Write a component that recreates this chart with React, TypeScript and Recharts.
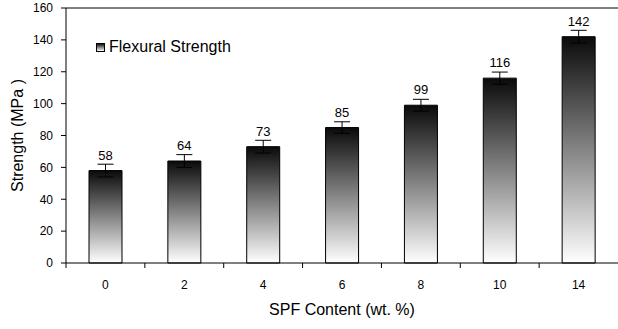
import React from 'react';
import { BarChart, Bar, XAxis, YAxis, ErrorBar, LabelList, Legend, ReferenceLine } from 'recharts';

const spfContent = ['0', '2', '4', '6', '8', '10', '14'];
const flexuralStrength = [58, 64, 73, 85, 99, 116, 142];
const strengthError = [4, 4, 4, 3.6, 3.7, 3.8, 4];
const yTicks = [0, 20, 40, 60, 80, 100, 120, 140, 160];

const data = spfContent.map((c, i) => ({
  content: c,
  strength: flexuralStrength[i],
  err: strengthError[i],
}));

const W = 618;
const H = 329;
const Y_AXIS_W = 66;
const STEP = (W - Y_AXIS_W) / spfContent.length;
const FONT = '"Liberation Sans", Arial, sans-serif';

const XTick = ({ x, y, payload }: any) => (
  <g>
    <line x1={x - STEP / 2} y1={y} x2={x - STEP / 2} y2={y + 5} stroke="#000" />
    <text x={x} y={y + 22} textAnchor="middle" dominantBaseline="central" fontSize={12} fill="#000">
      {payload.value}
    </text>
  </g>
);

const YTitle = ({ viewBox }: any) => {
  const cx = 17;
  const cy = viewBox.y + viewBox.height / 2;
  return (
    <text x={cx} y={cy} transform={`rotate(-90 ${cx} ${cy})`} textAnchor="middle" dominantBaseline="central" fontSize={16} fill="#000">
      Strength (MPa )
    </text>
  );
};

const LegendBox = () => (
  <div style={{ display: 'flex', alignItems: 'center', fontFamily: FONT, fontSize: 16, color: '#000' }}>
    <span
      style={{
        display: 'inline-block',
        width: 7,
        height: 7,
        border: '1px solid #000',
        background: 'linear-gradient(#111, #fff)',
        marginRight: 4,
      }}
    />
    Flexural Strength
  </div>
);

export default function App() {
  return (
    <div style={{ position: 'absolute', left: 0, top: 0, background: '#fff' }}>
      <BarChart
        width={W}
        height={H}
        data={data}
        margin={{ top: 8, right: 0, bottom: 0, left: 0 }}
        style={{ fontFamily: FONT }}
      >
        <defs>
          <linearGradient id="barGrad" x1="0" y1="0" x2="0" y2="1">
            <stop offset="0%" stopColor="#0a0a0a" />
            <stop offset="100%" stopColor="#ffffff" />
          </linearGradient>
        </defs>
        <XAxis
          dataKey="content"
          height={66}
          tickSize={0}
          tickMargin={0}
          tickLine={false}
          axisLine={{ stroke: '#000' }}
          tick={<XTick />}
          interval={0}
          label={{ value: 'SPF Content (wt. %)', position: 'insideBottom', offset: 14, fontSize: 16, fill: '#000' }}
        />
        <YAxis
          width={Y_AXIS_W}
          domain={[0, 160]}
          ticks={yTicks}
          interval={0}
          tickSize={5}
          tickMargin={8}
          tick={{ fontSize: 12, fill: '#000' }}
          tickLine={{ stroke: '#000' }}
          axisLine={{ stroke: '#000' }}
          label={{ content: <YTitle /> }}
        />
        <ReferenceLine y={160} stroke="#000" />
        <Legend
          layout="horizontal"
          verticalAlign="middle"
          align="center"
          content={<LegendBox />}
          wrapperStyle={{ position: 'absolute', left: 96, top: 38, width: 'auto' }}
        />
        <Bar dataKey="strength" barSize={33} fill="url(#barGrad)" stroke="#000" strokeWidth={1} isAnimationActive={false}>
          <ErrorBar dataKey="err" width={8} stroke="#000" strokeWidth={1} />
          <LabelList dataKey="strength" position="top" offset={11} fontSize={13} fill="#000" />
        </Bar>
      </BarChart>
    </div>
  );
}
